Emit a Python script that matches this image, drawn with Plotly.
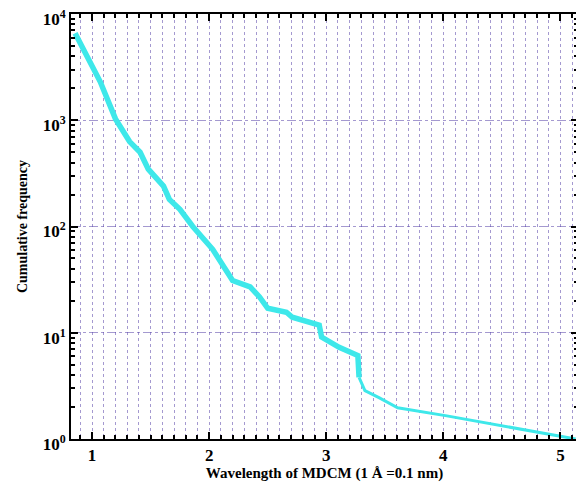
import plotly.graph_objects as go

# Data
wavelength = [0.855, 0.955, 1.07, 1.20, 1.32, 1.41, 1.48, 1.61, 1.66, 1.75, 1.86, 2.03, 2.12, 2.20,
              2.35, 2.43, 2.50, 2.60, 2.66, 2.71, 2.80, 2.94, 2.96, 3.11, 3.27, 3.28, 3.33, 3.45,
              3.61, 4.03, 4.59, 4.99, 5.13]
cum_freq = [6600, 4100, 2300, 1030, 630, 500, 347, 240, 180, 145, 100, 61, 42, 31,
            27, 21.7, 17, 16.3, 15.6, 14, 13, 11.8, 9.1, 7.3, 6.1, 3.8, 2.85, 2.45,
            1.97, 1.65, 1.27, 1.07, 1.0]

y_tickvals = [1, 10, 100, 1000, 10000]
y_ticktext = ["10<sup>0</sup>", "10<sup>1</sup>", "10<sup>2</sup>", "10<sup>3</sup>", "10<sup>4</sup>"]
x_tickvals = [1, 2, 3, 4, 5]
x_ticktext = ["1", "2", "3", "4", "5"]

cyan = "#3ee8ea"
split = 26  # thick part / thin tail

fig = go.Figure()
fig.add_trace(go.Scatter(x=wavelength[:split], y=cum_freq[:split], mode="lines",
                         line=dict(color=cyan, width=5.5), showlegend=False))
fig.add_trace(go.Scatter(x=wavelength[split - 1:], y=cum_freq[split - 1:], mode="lines",
                         line=dict(color=cyan, width=3), showlegend=False))

gridc = "rgba(90,70,170,0.55)"
tickfont = dict(family="Liberation Serif", size=17, color="black", weight="bold")

minor_y = []
for d in [1, 10, 100, 1000]:
    minor_y += [d * k for k in range(2, 10)]

fig.update_layout(
    width=576, height=478,
    margin=dict(l=63, r=6, t=6, b=47, autoexpand=False),
    plot_bgcolor="white", paper_bgcolor="white",
    font=dict(family="Liberation Serif", size=15, color="black"),
)
fig.update_xaxes(
    range=[0.82, 5.15], tickmode="array", tickvals=x_tickvals, ticktext=x_ticktext,
    ticks="inside", ticklen=7, tickwidth=1.5, tickcolor="black",
    showline=True, linecolor="black", linewidth=2, mirror="allticks",
    showgrid=False, zeroline=False, automargin=False,
    tickfont=tickfont,
    minor=dict(dtick=0.1, tick0=0, ticks="inside", ticklen=4, tickcolor="black",
               showgrid=True, gridcolor=gridc, griddash="dot", gridwidth=1),
    title=dict(text="<b>Wavelength of MDCM (1 Å =0.1 nm)</b>",
               font=dict(family="Liberation Serif", size=15), standoff=2),
)
fig.update_yaxes(
    type="log", range=[0, 4], tickmode="array", tickvals=y_tickvals, ticktext=y_ticktext,
    ticks="inside", ticklen=7, tickwidth=1.5, tickcolor="black",
    showline=True, linecolor="black", linewidth=2, mirror="allticks",
    showgrid=True, gridcolor=gridc, griddash="dashdot", gridwidth=1,
    zeroline=False, automargin=False, ticklabeloverflow="allow", ticklabelshift=5,
    tickfont=tickfont,
    minor=dict(tickmode="array", tickvals=minor_y, ticks="inside", ticklen=4,
               tickcolor="black", showgrid=False),
    title=dict(text="<b>Cumulative frequency</b>",
               font=dict(family="Liberation Serif", size=14), standoff=12),
)

fig.write_html("out.html")
